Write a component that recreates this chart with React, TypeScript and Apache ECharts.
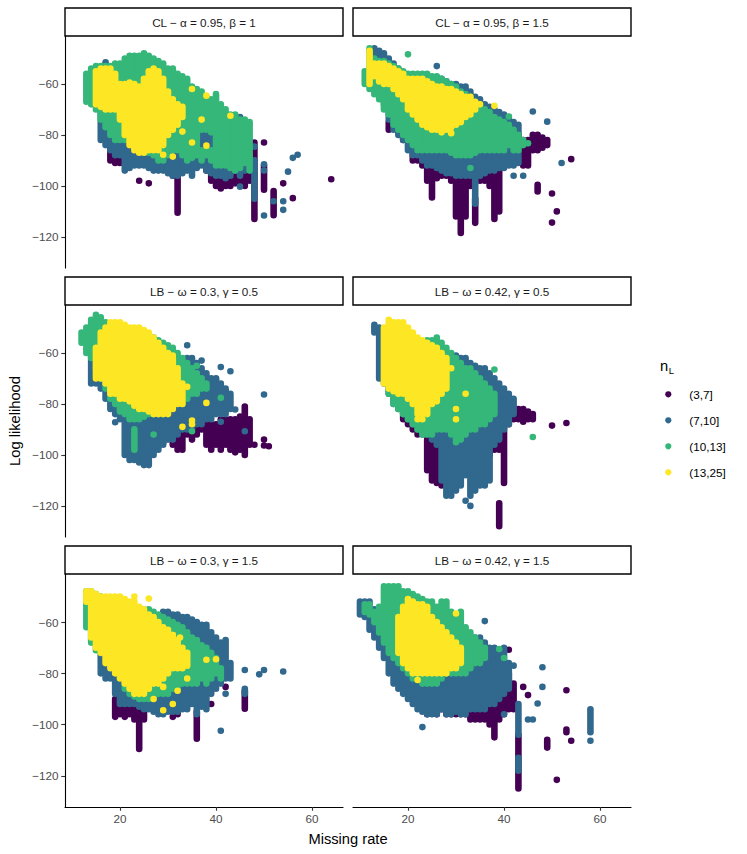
import { useEffect, useRef } from "react";
import * as echarts from "echarts";

type Run = [number, number, number]; // [missing rate, log-lik from, log-lik to]

const categories = ["(3,7]", "(7,10]", "(10,13]", "(13,25]"];
const colors = ["#440154", "#31688E", "#35B779", "#FDE725"];
const panelTitles = [
  "CL − α = 0.95, β = 1",
  "CL − α = 0.95, β = 1.5",
  "LB − ω = 0.3, γ = 0.5",
  "LB − ω = 0.42, γ = 0.5",
  "LB − ω = 0.3, γ = 1.5",
  "LB − ω = 0.42, γ = 1.5",
];
const xTicks = [20, 40, 60];
const yTicks = [-120, -100, -80, -60];
const xTitle = "Missing rate";
const yTitle = "Log likelihood";
const legendTitle = "n";
const legendSub = "L";

// ---------- Panel 1: CL − α = 0.95, β = 1 ----------
const cl1_37: Run[] = [
  [18, -80, -90], [19, -82, -91], [20, -83, -91], [21, -84, -90], [22, -86, -90], [24, -98, -98], [26, -99, -99],
  [31, -90, -96], [32, -96, -110.5], [38, -90, -94], [39, -92, -98], [40, -94, -100], [41, -95, -101], [42, -96, -100],
  [43, -96, -100], [44, -95, -99], [45, -96, -99], [46, -92, -100], [47, -92, -98], [48, -83, -113], [50, -83, -83],
  [50, -92, -101.5], [52, -102, -111.5], [54, -99, -99], [56, -104.8, -104.8], [64, -97.4, -97.4],
];
const cl1_710: Run[] = [
  [16, -66, -82], [17, -60, -84], [18, -60, -86], [19, -60, -88], [20, -60, -88], [21, -58, -94], [22, -60, -93],
  [23, -62, -92], [24, -64, -92], [25, -66, -92], [26, -68, -93], [27, -70, -94], [28, -72, -94], [29, -74, -94],
  [30, -74, -95], [31, -75, -96], [32, -76, -96], [33, -76, -95], [34, -76, -94], [35, -76, -96], [36, -76, -93],
  [37, -76, -92], [38, -78, -94], [39, -78, -95], [40, -80, -96], [41, -80, -96], [42, -82, -97], [43, -82, -96],
  [44, -82, -94], [45, -84, -96], [46, -86, -94], [47, -88, -93], [48, -90, -105], [17, -51.5, -51.5],
  [45, -73, -73], [46, -77, -77], [48, -84.6, -84.6], [50, -94, -94], [50, -91.5, -91.5], [52, -106, -106],
  [54, -106, -106], [54, -109.4, -109.4], [55, -94.4, -94.4], [56, -89, -89], [57, -87.8, -87.8], [50, -111.6, -111.6],
  [45, -100.3, -100.3],
];
const cl1_1013: Run[] = [
  [13, -56, -67], [14, -54, -68], [15, -53, -70], [16, -53, -74], [17, -53, -77], [18, -53, -80], [19, -52, -82],
  [20, -52, -82], [21, -50, -82], [22, -49, -80], [23, -49, -82], [24, -49, -85], [25, -48, -85], [26, -49, -87],
  [27, -50, -88], [28, -51, -90], [29, -52, -90], [30, -54, -88], [31, -54, -86], [32, -56, -86], [33, -57, -88],
  [34, -58, -90], [35, -61, -89], [36, -62, -88], [37, -63, -78], [37, -86, -90], [38, -65, -78], [38, -86, -88],
  [39, -66, -79], [39, -86, -90], [40, -64, -92], [41, -68, -92], [42, -70, -92], [43, -72, -93], [44, -72, -94],
  [45, -74, -93], [46, -74, -91], [47, -75, -94],
];
const cl1_1325: Run[] = [
  [15, -55, -68], [16, -54, -69], [17, -54, -70], [18, -54, -70], [19, -56, -70], [20, -60, -74], [21, -60, -80],
  [22, -60, -84], [23, -60, -86], [24, -61, -87], [25, -58, -87], [26, -55, -86], [27, -54, -86], [28, -55, -86],
  [29, -58, -84], [30, -63, -80], [31, -66, -78], [32, -68, -76], [33, -69, -73], [29, -87.8, -87.8],
  [31, -88.5, -88.5], [35, -83, -83], [38, -84.2, -84.2], [37, -74, -74], [43, -72.5, -72.5], [38, -64.6, -64.6],
  [35, -62, -62], [22, -59.5, -59.5], [33, -78.7, -78.7],
];

// ---------- Panel 2: CL − α = 0.95, β = 1.5 ----------
const cl2_37: Run[] = [
  [16, -75, -78], [19, -78, -82], [21, -82, -90], [22, -84, -90], [23, -86, -92], [24, -88, -98], [25, -88, -104.5],
  [26, -90, -97], [27, -92, -96], [28, -92, -96], [29, -92, -98], [30, -92, -112], [31, -92, -118.5], [32, -92, -112],
  [33, -92, -100], [34, -105, -114.5], [35, -94, -98], [36, -92, -98], [37, -88, -100], [38, -88, -113], [39, -88, -110],
  [40, -76, -90], [41, -76, -90], [42, -78, -88], [43, -80, -90], [44, -82, -92], [45, -82, -92], [46, -80, -86],
  [47, -80, -86], [48, -81, -85], [49, -82, -84], [47, -99.6, -102.2], [50, -103, -103], [51, -110, -110],
  [50, -114.4, -114.4], [54, -89.5, -89.5],
];
const cl2_710: Run[] = [
  [13, -46, -56], [14, -47, -60], [15, -48, -68], [16, -50, -74], [17, -52, -78], [18, -54, -80], [19, -56, -82],
  [20, -57, -86], [21, -58, -88], [22, -58, -88], [23, -58, -90], [24, -57, -92], [25, -58, -92], [26, -58, -93],
  [27, -58, -94], [28, -59, -95], [29, -60, -95], [30, -60, -96], [31, -61, -96], [32, -61, -96], [33, -63, -96],
  [34, -65, -107], [35, -66, -96], [36, -68, -95], [37, -69, -94], [38, -70, -94], [39, -71, -93], [40, -72, -93],
  [41, -73, -92], [42, -75, -92], [43, -76, -91], [26, -53, -53], [46, -70.8, -70.8], [49, -74.8, -74.8],
  [52, -91, -91], [42, -96, -96], [44, -96, -96],
];
const cl2_1013: Run[] = [
  [11, -55, -60], [12, -46, -62], [13, -50, -64], [14, -51, -66], [15, -51, -70], [16, -52, -72], [17, -53, -76],
  [18, -54, -78], [19, -55, -80], [20, -56, -82], [21, -56, -84], [22, -56, -86], [23, -56, -86], [24, -56, -86],
  [25, -57, -86], [26, -57, -86], [27, -58, -86], [28, -59, -86], [29, -60, -87], [30, -61, -88], [31, -63, -88],
  [32, -64, -88], [33, -65, -88], [34, -67, -87], [35, -68, -86], [36, -70, -86], [37, -71, -86], [38, -73, -86],
  [39, -74, -86], [40, -75, -86], [41, -76, -84], [42, -78, -86], [43, -80, -86], [44, -82, -84],
  [20, -48.4, -48.4], [33, -93, -93], [41, -72.8, -72.8], [45, -83.3, -83.3],
];
const cl2_1325: Run[] = [
  [12, -47, -60], [13, -52, -57], [14, -52, -59], [15, -52, -60], [16, -53, -60], [17, -54, -62], [18, -55, -64],
  [19, -56, -66], [20, -58, -70], [21, -58, -72], [22, -58, -74], [23, -58, -76], [24, -59, -77], [25, -60, -78],
  [26, -61, -78], [27, -61, -79], [28, -62, -78], [29, -62, -77], [30, -63, -76], [31, -64, -75], [32, -65, -73],
  [33, -65, -72], [34, -67, -70], [35, -68, -68], [29, -79.3, -79.3], [38, -68.6, -68.6],
];

// ---------- Panel 3: LB − ω = 0.3, γ = 0.5 ----------
const lb1_37: Run[] = [
  [28, -94, -94], [29, -95, -95], [31, -92, -96], [32, -92, -98], [33, -86, -98], [34, -84, -92], [35, -86, -94],
  [36, -88, -92], [37, -86, -90], [38, -80, -96], [39, -88, -98], [40, -88, -96], [41, -86, -98], [42, -86, -96],
  [43, -86, -98], [44, -86, -99], [45, -85, -98], [46, -81, -100], [47, -86, -96], [48, -96, -96], [50, -94, -94],
  [50, -96.3, -96.3], [51, -96.6, -96.6], [42, -75, -75],
];
const lb1_710: Run[] = [
  [14, -50, -72], [15, -54, -72], [16, -56, -74], [17, -58, -78], [18, -60, -82], [19, -62, -84], [20, -62, -86],
  [21, -66, -100], [22, -66, -102], [23, -68, -102], [24, -70, -103], [25, -72, -104], [26, -72, -104],
  [27, -72, -100], [28, -74, -98], [29, -74, -96], [30, -72, -94], [31, -70, -94], [32, -66, -92], [33, -64, -90],
  [34, -62, -90], [35, -62, -90], [36, -64, -88], [37, -66, -88], [38, -68, -86], [39, -70, -86], [40, -70, -84],
  [41, -72, -84], [42, -74, -84], [43, -76, -82], [34, -57, -57], [37, -63, -63], [41, -65.5, -65.5],
  [43, -67.2, -67.2], [40, -70.2, -70.2], [50, -76.3, -76.3], [44, -82.2, -82.2], [46, -90.7, -90.7],
  [19, -87.2, -87.2], [41, -87, -87],
];
const lb1_1013: Run[] = [
  [12, -52, -56], [13, -50, -60], [14, -47, -62], [15, -45, -66], [16, -46, -70], [17, -48, -74], [18, -50, -78],
  [19, -52, -80], [20, -54, -83], [21, -55, -84], [22, -56, -86], [23, -56, -86], [23, -90, -98], [24, -57, -86],
  [25, -57, -85], [26, -56, -84], [27, -54, -84], [28, -55, -84], [29, -56, -84], [30, -57, -82], [31, -58, -80],
  [32, -60, -79], [33, -62, -80], [34, -64, -78], [35, -66, -76], [36, -68, -76], [37, -70, -74], [38, -72, -74],
  [36, -65, -65], [41, -77.6, -77.6], [27, -92, -92], [35, -90.7, -90.7],
];
const lb1_1325: Run[] = [
  [15, -58, -70], [16, -52, -70], [17, -50, -72], [18, -48, -76], [19, -48, -76], [20, -48, -78], [21, -49, -78],
  [22, -50, -79], [23, -50, -80], [24, -50, -82], [25, -51, -82], [26, -52, -83], [27, -54, -84], [28, -56, -84],
  [29, -58, -84], [30, -60, -84], [31, -62, -82], [32, -66, -80], [33, -72, -80], [31, -61, -61],
  [34, -73.3, -73.3], [38, -79.6, -79.6], [33, -89, -89], [35, -86.5, -86.5], [35, -88, -88], [23, -80.7, -80.7],
];

// ---------- Panel 4: LB − ω = 0.42, γ = 0.5 ----------
const lb2_37: Run[] = [
  [19, -82, -86], [20, -83, -88], [21, -84, -90], [22, -86, -92], [24, -94, -106], [25, -95, -110], [26, -96, -111],
  [27, -96, -112], [28, -112, -112], [36, -88, -104], [37, -88, -100], [38, -72, -98], [39, -84, -98],
  [40, -86, -111], [41, -83, -88], [42, -82, -86], [43, -82, -86], [44, -82, -87], [45, -83, -86], [46, -84, -86],
  [39, -119, -128], [53, -87.5, -87.5], [50, -88.5, -88.5],
];
const lb2_710: Run[] = [
  [13, -49, -52], [14, -50, -70], [15, -51, -72], [16, -52, -76], [17, -53, -80], [18, -54, -82], [19, -55, -84],
  [20, -56, -86], [21, -57, -88], [22, -58, -90], [23, -58, -92], [24, -59, -92], [25, -59, -94], [26, -60, -96],
  [27, -60, -110], [28, -60, -116], [29, -61, -116], [30, -61, -114], [31, -62, -112], [32, -62, -108],
  [33, -64, -116], [34, -65, -114], [35, -66, -112], [36, -66, -112], [37, -68, -110], [38, -70, -96],
  [39, -72, -94], [40, -74, -90], [41, -76, -88], [42, -78, -84], [33, -120, -120], [32, -118, -118],
];
const lb2_1013: Run[] = [
  [16, -62, -76], [17, -60, -80], [18, -60, -82], [19, -58, -84], [20, -57, -86], [21, -56, -88], [22, -56, -90],
  [23, -56, -92], [24, -55, -92], [25, -55, -92], [26, -54, -90], [27, -56, -90], [28, -58, -90], [29, -60, -92],
  [30, -62, -95], [31, -64, -94], [32, -66, -92], [33, -66, -90], [34, -68, -90], [35, -70, -88], [36, -72, -88],
  [37, -74, -86], [38, -76, -84], [46, -93, -93], [38, -66.5, -66.5],
];
const lb2_1325: Run[] = [
  [15, -50, -72], [16, -47, -74], [17, -48, -75], [18, -48, -76], [19, -48, -76], [20, -50, -78], [21, -52, -80],
  [22, -54, -84], [23, -55, -84], [24, -56, -84], [25, -57, -80], [26, -58, -79], [27, -60, -76], [28, -62, -74],
  [32, -76, -76], [30, -82, -82], [30, -86, -86], [23, -86, -86], [22, -86, -86], [29, -66, -66],
];

// ---------- Panel 5: LB − ω = 0.3, γ = 1.5 ----------
const lb3_37: Run[] = [
  [19, -90, -97], [20, -90, -96], [21, -92, -97], [22, -92, -96], [23, -93, -98], [24, -94, -109.5], [25, -95, -98],
  [31, -97, -97], [32, -94, -96], [36, -95, -105.5], [37, -92, -92], [39, -92, -92], [40, -73.7, -73.7],
  [42, -85.3, -85.3], [46, -87, -93.8],
];
const lb3_710: Run[] = [
  [16, -60, -80], [17, -60, -82], [18, -62, -82], [19, -64, -88], [20, -66, -92], [21, -68, -92], [22, -68, -92],
  [23, -68, -92], [24, -68, -93], [25, -68, -94], [26, -66, -94], [27, -62, -95], [28, -58, -96], [29, -56, -96],
  [30, -56, -95], [31, -57, -95], [32, -57, -95], [33, -58, -94], [34, -58, -94], [35, -59, -92], [36, -60, -96],
  [37, -61, -93], [38, -61, -94], [39, -64, -88], [40, -66, -86], [41, -68, -84], [42, -67, -82], [43, -76, -82],
  [46, -78.7, -78.7], [49, -80.4, -80.4], [50, -78.7, -78.7], [54, -79.3, -79.3], [46, -86, -88],
  [41, -102.4, -102.4], [42, -88, -88],
];
const lb3_1013: Run[] = [
  [13, -48, -62], [14, -48, -68], [15, -49, -71], [16, -50, -72], [17, -51, -72], [18, -52, -74], [19, -52, -75],
  [20, -52, -78], [21, -53, -86], [22, -54, -88], [23, -54, -89], [24, -55, -90], [25, -55, -90], [26, -55, -90],
  [27, -56, -89], [28, -57, -88], [29, -58, -88], [30, -59, -88], [31, -60, -86], [32, -61, -86], [33, -62, -84],
  [34, -64, -84], [35, -66, -84], [36, -67, -84], [37, -69, -82], [38, -70, -84], [39, -72, -82], [40, -74, -80],
  [41, -78, -82],
];
const lb3_1325: Run[] = [
  [13, -48, -52], [14, -48, -66], [15, -49, -70], [16, -50, -72], [17, -50, -76], [18, -50, -78], [19, -50, -80],
  [20, -50, -82], [21, -51, -84], [22, -52, -86], [23, -52, -88], [24, -54, -88], [25, -55, -88], [26, -57, -86],
  [27, -58, -84], [28, -60, -84], [29, -62, -82], [30, -63, -80], [31, -65, -78], [32, -67, -78], [33, -70, -78],
  [34, -72, -77], [23, -50, -50], [26, -50.8, -50.8], [31, -65, -65], [32.5, -66, -66], [38, -74.7, -74.7],
  [40, -74.5, -74.5], [29, -85.3, -85.3], [31, -92, -92], [29, -94.4, -94.4], [32, -86.8, -86.8], [27, -90, -90],
  [34, -82, -82],
];

// ---------- Panel 6: LB − ω = 0.42, γ = 1.5 ----------
const lb4_37: Run[] = [
  [22, -88, -92], [23, -88, -94], [24, -90, -96], [25, -90, -95], [26, -90, -96], [27, -88, -94], [28, -88, -96],
  [29, -86, -96], [30, -88, -96], [31, -90, -96], [32, -90, -96], [33, -92, -98], [34, -92, -98], [35, -90, -98],
  [36, -90, -98], [37, -90, -100], [38, -90, -105], [39, -88, -98], [40, -86, -96], [41, -80, -94], [42, -84, -94],
  [43, -104, -125], [41, -70.8, -70.8], [44, -85.3, -85.3], [45, -88.5, -88.5], [53, -86.6, -86.6],
  [53, -102, -103], [54, -106.3, -106.3], [49, -106, -109], [51, -121.6, -121.6],
];
const lb4_710: Run[] = [
  [10, -52, -57], [11, -52, -58], [12, -52, -63], [13, -55, -66], [14, -60, -70], [15, -62, -74], [16, -64, -80],
  [17, -64, -84], [18, -66, -86], [19, -66, -88], [20, -68, -90], [21, -68, -92], [22, -68, -94], [23, -68, -95],
  [24, -66, -96], [25, -64, -96], [26, -62, -96], [27, -62, -94], [28, -62, -96], [29, -62, -96], [30, -63, -95],
  [31, -64, -96], [32, -65, -96], [33, -66, -94], [34, -66, -94], [35, -66, -94], [36, -68, -94], [37, -70, -92],
  [38, -70, -92], [39, -72, -90], [40, -70, -88], [41, -76, -86], [43, -92, -104], [43, -113, -118],
  [23, -101, -101], [36, -59.6, -59.6], [42, -77, -77], [48, -77.6, -77.6], [48, -85.3, -85.3],
  [47, -91.8, -91.8], [45, -98, -98], [46, -98, -98], [58, -94, -103], [58, -106.3, -106.3], [40, -96, -96],
];
const lb4_1013: Run[] = [
  [11, -53, -56], [12, -53, -57], [13, -56, -60], [14, -54, -64], [15, -46, -68], [16, -46, -72], [17, -46, -74],
  [18, -46, -76], [19, -48, -78], [20, -48, -80], [21, -49, -82], [22, -50, -82], [23, -51, -84], [24, -52, -84],
  [25, -52, -84], [26, -54, -84], [27, -52, -82], [28, -52, -80], [29, -56, -80], [30, -58, -80], [31, -56, -80],
  [32, -62, -80], [33, -64, -78], [34, -66, -76], [35, -68, -76], [36, -70, -74], [39, -70.5, -70.5],
  [40, -74, -74],
];
const lb4_1325: Run[] = [
  [18, -58, -72], [19, -54, -76], [20, -51, -78], [21, -52, -80], [22, -53, -80], [23, -53, -80], [24, -54, -80],
  [25, -58, -80], [26, -60, -80], [27, -62, -80], [28, -64, -80], [29, -66, -78], [30, -68, -78], [31, -70, -76],
  [30, -56.6, -56.6], [22, -82.6, -82.6],
];

const panelData: Run[][][] = [
  [cl1_37, cl1_710, cl1_1013, cl1_1325],
  [cl2_37, cl2_710, cl2_1013, cl2_1325],
  [lb1_37, lb1_710, lb1_1013, lb1_1325],
  [lb2_37, lb2_710, lb2_1013, lb2_1325],
  [lb3_37, lb3_710, lb3_1013, lb3_1325],
  [lb4_37, lb4_710, lb4_1013, lb4_1325],
];

// ---------- layout ----------
const FONT = '"Liberation Sans", Arial, Helvetica, sans-serif';
const COL_LEFT = [65, 353];
const PANEL_W = 278;
const ROW_TOP = [36, 305, 574];
const PANEL_H = [232, 232, 233];
const STRIP_H = 28;
const X_MIN = 8.55;
const X_MAX = 66.45;
const Y_MIN = -132.2;
const Y_MAX = -41.2;
const R = 3.3;

function buildOption() {
  const grid: any[] = [];
  const xAxis: any[] = [];
  const yAxis: any[] = [];
  const series: any[] = [];
  const graphic: any[] = [];

  panelTitles.forEach((title, i) => {
    const row = Math.floor(i / 2);
    const col = i % 2;
    const left = COL_LEFT[col];
    const top = ROW_TOP[row];
    grid.push({ left, top, width: PANEL_W, height: PANEL_H[row], containLabel: false });
    const bottomRow = row === 2;
    const leftCol = col === 0;
    xAxis.push({
      type: "value",
      gridIndex: i,
      min: X_MIN,
      max: X_MAX,
      splitLine: { show: false },
      axisLine: { show: bottomRow, onZero: false, lineStyle: { color: "#000", width: 1.1 } },
      axisTick: { show: bottomRow, length: 3.7, customValues: xTicks, lineStyle: { color: "#333", width: 1.1 } },
      axisLabel: {
        show: bottomRow,
        customValues: xTicks,
        color: "#4d4d4d",
        fontSize: 11.7,
        fontFamily: FONT,
        margin: 5,
      },
    });
    yAxis.push({
      type: "value",
      gridIndex: i,
      min: Y_MIN,
      max: Y_MAX,
      splitLine: { show: false },
      axisLine: { show: leftCol, onZero: false, lineStyle: { color: "#000", width: 1.1 } },
      axisTick: { show: leftCol, length: 3.7, customValues: yTicks, lineStyle: { color: "#333", width: 1.1 } },
      axisLabel: {
        show: leftCol,
        customValues: yTicks,
        color: "#4d4d4d",
        fontSize: 11.7,
        fontFamily: FONT,
        margin: 6.5,
        formatter: (v: number) => String(v).replace("-", "\u2212"),
      },
    });
    panelData[i].forEach((runs, c) => {
      const color = colors[c];
      series.push({
        type: "custom",
        name: categories[c],
        xAxisIndex: i,
        yAxisIndex: i,
        data: runs,
        encode: { x: 0, y: [1, 2] },
        silent: true,
        clip: true,
        renderItem: (_params: any, api: any) => {
          const x = api.value(0);
          const a = api.coord([x, api.value(1)]);
          const b = api.coord([x, api.value(2)]);
          const yTop = Math.min(a[1], b[1]);
          const h = Math.abs(a[1] - b[1]);
          return {
            type: "rect",
            shape: { x: a[0] - R, y: yTop - R, width: 2 * R, height: h + 2 * R, r: R },
            style: { fill: color },
          };
        },
      });
    });
    // strip
    graphic.push({
      type: "rect",
      shape: { x: left, y: top - STRIP_H, width: PANEL_W, height: STRIP_H },
      style: { fill: "#fff", stroke: "#000", lineWidth: 1.4 },
      silent: true,
    });
    graphic.push({
      type: "text",
      x: left + PANEL_W / 2,
      y: top - STRIP_H / 2,
      style: {
        text: title,
        fill: "#1a1a1a",
        fontSize: 11.7,
        fontFamily: FONT,
        textAlign: "center",
        textVerticalAlign: "middle",
      },
      silent: true,
    });
  });

  // axis titles
  graphic.push({
    type: "text",
    x: 15,
    y: 421,
    rotation: Math.PI / 2,
    style: { text: yTitle, fill: "#000", fontSize: 14.7, fontFamily: FONT, textAlign: "center", textVerticalAlign: "middle" },
  });
  graphic.push({
    type: "text",
    x: 348,
    y: 839,
    style: { text: xTitle, fill: "#000", fontSize: 14.7, fontFamily: FONT, textAlign: "center", textVerticalAlign: "middle" },
  });

  // legend
  graphic.push({
    type: "text",
    x: 660,
    y: 365.5,
    style: { text: legendTitle, fill: "#000", fontSize: 14.7, fontFamily: FONT, textAlign: "left", textVerticalAlign: "middle" },
  });
  graphic.push({
    type: "text",
    x: 668.8,
    y: 370.5,
    style: { text: legendSub, fill: "#000", fontSize: 9.5, fontFamily: FONT, textAlign: "left", textVerticalAlign: "middle" },
  });
  categories.forEach((cat, c) => {
    const cy = 394.3 + c * 26;
    graphic.push({ type: "circle", shape: { cx: 668.3, cy, r: 3.1 }, style: { fill: colors[c] } });
    graphic.push({
      type: "text",
      x: 689.3,
      y: cy,
      style: { text: cat, fill: "#000", fontSize: 11.7, fontFamily: FONT, textAlign: "left", textVerticalAlign: "middle" },
    });
  });

  return {
    animation: false,
    backgroundColor: "#fff",
    textStyle: { fontFamily: FONT },
    grid,
    xAxis,
    yAxis,
    series,
    graphic,
  };
}

export default function App() {
  const ref = useRef<HTMLDivElement>(null);
  useEffect(() => {
    if (!ref.current) return;
    const chart = echarts.init(ref.current, undefined, { renderer: "svg" });
    chart.setOption(buildOption() as any);
    return () => chart.dispose();
  }, []);
  return (
    <div
      ref={ref}
      style={{ position: "fixed", left: 0, top: 0, width: 747, height: 854, background: "#fff" }}
    />
  );
}
